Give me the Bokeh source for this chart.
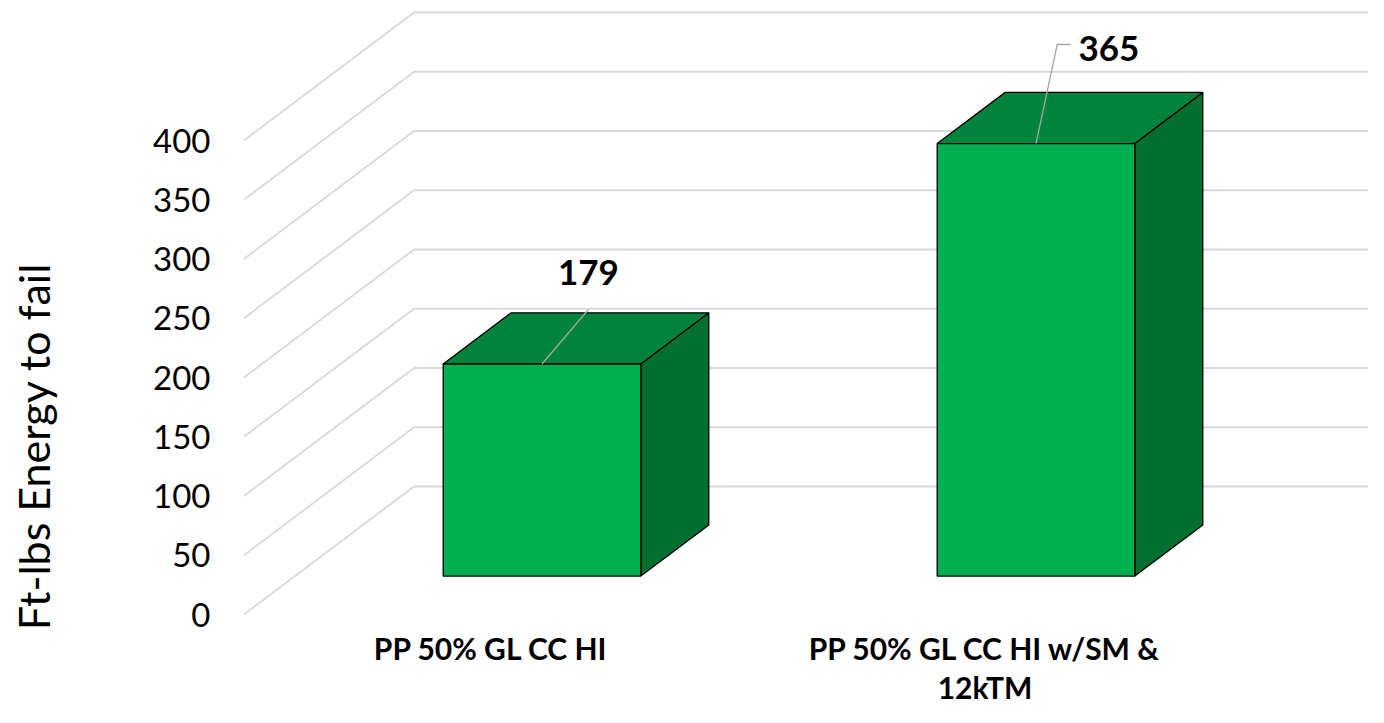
from bokeh.plotting import figure
from bokeh.layouts import row
from bokeh.models import FixedTicker
from bokeh.core.properties import value
from bokeh.embed import file_html
from bokeh.resources import INLINE

# ---- data ----
categories = ["PP 50% GL CC HI", "PP 50% GL CC HI w/SM &\n12kTM"]
energy = [179, 365]
y_ticks = [0, 50, 100, 150, 200, 250, 300, 350, 400]
y_title = "Ft-lbs Energy to fail"

# ---- projection / style constants ----
PX_X = 494.0            # pixels per category slot
PX_Y = 474.0 / 400.0    # pixels per value unit
DX = 170.0 / PX_X       # depth offset in x (category units)
DY = 128.0 / PX_Y       # depth offset in y (value units)
D0, D1 = 0.3, 0.7       # bar depth span
BW = 0.4                # bar width (gap width 150%)

W, H = 1368, 707
TW = 62                 # width of the strip holding the axis title
L = 240 - TW
ZERO_PX = 614
x_start = -3.5 / PX_X
x_end = x_start + (W - TW - L) / PX_X
y_start = -(H - ZERO_PX) / PX_Y
y_end = y_start + H / PX_Y

FRONT = "#00B050"
TOP = "#00843C"
SIDE = "#006F30"
GRID = "#D9D9D9"
LEADER = "#A6A6A6"

# ---- axis-title strip: a bare axis carrying only the title ----
t = figure(width=TW, height=H, x_range=(0, 1), y_range=(0, 1),
           output_backend="svg", toolbar_location=None, x_axis_location=None,
           min_border_left=60, min_border_right=0, min_border_top=185, min_border_bottom=0)
t.grid.visible = False
t.outline_line_color = None
t.background_fill_color = "white"
t.border_fill_color = "white"
ta = t.yaxis[0]
ta.ticker = FixedTicker(ticks=[])
ta.axis_line_color = None
ta.major_tick_line_color = None
ta.minor_tick_line_color = None
ta.major_tick_out = 0
ta.major_tick_in = 0
ta.major_label_standoff = 0
ta.axis_label = y_title
ta.axis_label_standoff = 2
ta.axis_label_text_font = "Lato"
ta.axis_label_text_font_size = "43px"
ta.axis_label_text_font_style = "normal"
ta.axis_label_text_color = "black"

# ---- main chart ----
p = figure(width=W - TW, height=H, x_range=(x_start, x_end), y_range=(y_start, y_end),
           output_backend="svg", toolbar_location=None, x_axis_location=None,
           min_border_left=L, min_border_right=0, min_border_top=0, min_border_bottom=0)
p.xgrid.visible = False
p.ygrid.visible = False
p.outline_line_color = None
p.background_fill_color = "white"
p.border_fill_color = "white"

# keep the two frames independent (no cross-plot frame alignment)
for fig in (t, p):
    if "frame_align" in fig.properties():
        fig.frame_align = False

ax = p.yaxis[0]
ax.ticker = FixedTicker(ticks=y_ticks)
ax.axis_line_color = None
ax.major_tick_line_color = None
ax.minor_tick_line_color = None
ax.major_tick_out = 0
ax.major_tick_in = 0
ax.major_label_standoff = 30
ax.major_label_text_font = "Lato"
ax.major_label_text_font_size = "33px"
ax.major_label_text_color = "black"

n_cat = len(categories)
# back wall gridlines
p.segment(x0=[DX] * len(y_ticks), y0=[v + DY for v in y_ticks],
          x1=[n_cat + DX] * len(y_ticks), y1=[v + DY for v in y_ticks],
          line_color=GRID, line_width=1.8)
# side wall gridlines
p.segment(x0=[0] * len(y_ticks), y0=y_ticks,
          x1=[DX] * len(y_ticks), y1=[v + DY for v in y_ticks],
          line_color=GRID, line_width=1.8)

front_xs, front_ys, top_xs, top_ys, side_xs, side_ys = [], [], [], [], [], []
for i, v in enumerate(energy):
    c = i + 0.5
    xl, xr = c - BW / 2, c + BW / 2
    fy0, fy1 = D0 * DY, v + D0 * DY
    front_xs.append([xl + D0 * DX, xr + D0 * DX, xr + D0 * DX, xl + D0 * DX])
    front_ys.append([fy0, fy0, fy1, fy1])
    top_xs.append([xl + D0 * DX, xr + D0 * DX, xr + D1 * DX, xl + D1 * DX])
    top_ys.append([fy1, fy1, v + D1 * DY, v + D1 * DY])
    side_xs.append([xr + D0 * DX, xr + D1 * DX, xr + D1 * DX, xr + D0 * DX])
    side_ys.append([fy0, D1 * DY, v + D1 * DY, fy1])

p.patches(side_xs, side_ys, fill_color=SIDE, line_color="black", line_width=1.3)
p.patches(top_xs, top_ys, fill_color=TOP, line_color="black", line_width=1.3)
p.patches(front_xs, front_ys, fill_color=FRONT, line_color="black", line_width=1.3)

# data labels with leader lines (offsets are layout styling)
leader_offsets = [[(0.0, 0.0), (0.094, 46.0)],
                  [(0.0, 0.0), (0.043, 83.6), (0.070, 83.6)]]
label_offsets = [(0.094, 77.0, "center"), (0.086, 80.2, "left")]
lx, ly = [], []
for i, v in enumerate(energy):
    ax_ = i + 0.5 + D0 * DX
    ay_ = v + D0 * DY
    lx.append([ax_ + dx for dx, dy in leader_offsets[i]])
    ly.append([ay_ + dy for dx, dy in leader_offsets[i]])
    ox, oy, al = label_offsets[i]
    p.text(x=[ax_ + ox], y=[ay_ + oy], text=[str(v)], text_align=al,
           text_baseline="middle", text_font=value("Lato"), text_font_style="bold",
           text_font_size="35px", text_color="black")
p.multi_line(lx, ly, line_color=LEADER, line_width=1.3)

# category labels
p.text(x=[i + 0.5 for i in range(n_cat)], y=[(ZERO_PX - 629) / PX_Y] * n_cat,
       text=categories, text_align="center", text_baseline="top",
       text_font=value("Lato"), text_font_style="bold", text_font_size="30px",
       text_color="black", text_line_height=1.1)

layout = row(t, p, spacing=0)
open("out.html", "w").write(file_html(layout, INLINE))
